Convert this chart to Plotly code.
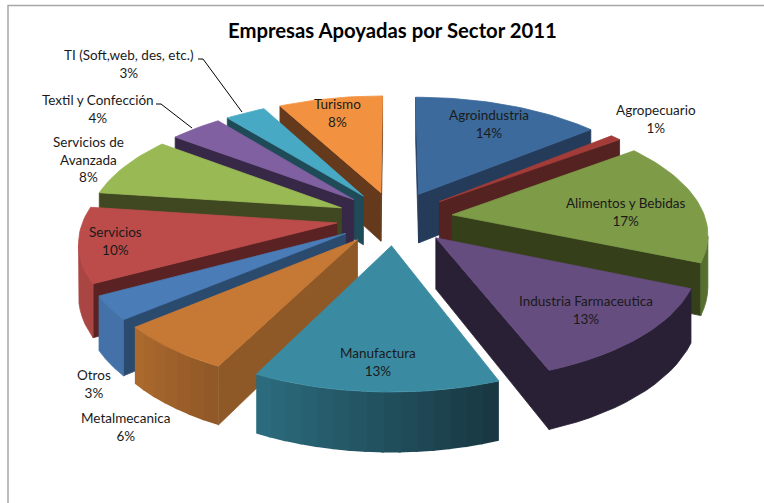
import math
import plotly.graph_objects as go

# ---------- data ----------
categories = ["Agroindustria", "Agropecuario", "Alimentos y Bebidas", "Industria Farmaceutica",
              "Manufactura", "Metalmecanica", "Otros", "Servicios", "Servicios de Avanzada",
              "Textil y Confección", "TI (Soft,web, des, etc.)", "Turismo"]
# the labels show these rounded to whole percent
values = [14, 0.8, 16.6, 12.8, 13.2, 6.45, 3.2, 10.1, 8.2, 3.9, 3, 7.75]
title_text = "Empresas Apoyadas por Sector 2011"

# ---------- styles ----------
top_colors = ["#3C6A9C", "#A33C38", "#7E9B48", "#664D80", "#3A8BA2", "#C67935",
              "#4A7DB8", "#BC4C4A", "#99B955", "#8060A0", "#47A9C3", "#F29240"]
radial_colors = ["#253B5A", "#552222", "#35401A", "#2A2036", "#183640", "#8F5827",
                 "#2A4A6E", "#5A2222", "#404822", "#382848", "#1F4A58", "#653A1C"]
wall_from = ["#253B5A", "#552222", "#566E2E", "#2A2036", "#183640", "#8F5827",
             "#4472A8", "#A94644", "#404822", "#382848", "#1F4A58", "#653A1C"]
wall_to = ["#253B5A", "#552222", "#566E2E", "#2A2036", "#2C6D7F", "#AD6A2E",
           "#4472A8", "#A94644", "#404822", "#382848", "#1F4A58", "#653A1C"]

label_pos = {
    "Agroindustria": (489, 124), "Agropecuario": (656, 119), "Alimentos y Bebidas": (626, 212),
    "Industria Farmaceutica": (586, 310), "Manufactura": (378, 362), "Metalmecanica": (125, 427),
    "Otros": (94, 384), "Servicios": (115, 241), "Servicios de Avanzada": (88, 159),
    "Textil y Confección": (98, 109), "TI (Soft,web, des, etc.)": (129, 64), "Turismo": (337, 113),
}
label_text = {"Servicios de Avanzada": "Servicios de<br>Avanzada"}

# projection of the tilted, exploded pie onto the page
CX, CY = 394.5, 218
A, K, P, H, EXPLODE, ROT = 253, 117, 0.141, 50, 0.23, 0.0
FONT = "Lato"


def project(wx, wy, z=0.0):
    s = 1 / (1 + P * wy)
    return CX + A * wx * s, CY - K * wy * s + H * z * s


def rim(a, mid, r=1.0):
    ra, rm = math.radians(a), math.radians(mid)
    return r * math.sin(ra) + EXPLODE * math.sin(rm), r * math.cos(ra) + EXPLODE * math.cos(rm)


def mix(c1, c2, t):
    a = [int(c1[i:i + 2], 16) for i in (1, 3, 5)]
    b = [int(c2[i:i + 2], 16) for i in (1, 3, 5)]
    return "#%02X%02X%02X" % tuple(round(x + (y - x) * t) for x, y in zip(a, b))


def area(pts):
    return sum(pts[i][0] * pts[(i + 1) % len(pts)][1] - pts[(i + 1) % len(pts)][0] * pts[i][1]
               for i in range(len(pts))) / 2


def poly(pts, color, name, width=0.8):
    return go.Scatter(x=[p[0] for p in pts] + [pts[0][0]], y=[p[1] for p in pts] + [pts[0][1]],
                      mode="lines", fill="toself", fillcolor=color,
                      line=dict(color=color, width=width), name=name, hoverinfo="name", showlegend=False)


total = sum(values)
slices = []
cum = 0
for i, v in enumerate(values):
    a0 = ROT + cum / total * 360
    a1 = ROT + (cum + v) / total * 360
    cum += v
    slices.append((i, a0, a1, (a0 + a1) / 2))
slices.sort(key=lambda t: -math.cos(math.radians(t[3])))

traces = []
for i, a0, a1, mid in slices:
    n = max(3, int((a1 - a0) / 1.5))
    angs = [a0 + (a1 - a0) * j / n for j in range(n + 1)]
    tip = rim(mid, mid, 0.0)
    name = categories[i]
    # radial faces that look toward the viewer
    for a, sign in ((a0, -1), (a1, 1)):
        rx, ry = rim(a, mid)
        pts = [project(*tip), project(rx, ry), project(rx, ry, 1), project(*tip, 1)]
        if area(pts) * sign > 0:
            traces.append(poly(pts, radial_colors[i], name))
    # outer wall: wider bands along the rim so that it can shade; each band runs
    # slightly under the next one so that no seam shows between them
    uniform = wall_from[i] == wall_to[i]
    m = max(2, int((a1 - a0) / 3))
    wall_angs = [a0 + (a1 - a0) * j / m for j in range(m + 1)]
    run = []
    for j in range(m):
        p, q = rim(wall_angs[j], mid), rim(wall_angs[j + 1], mid)
        pts = [project(*p), project(*q), project(*q, 1), project(*p, 1)]
        if area(pts) < 0:
            if uniform:
                run.append((p, q))
            else:
                q2 = rim(min(wall_angs[j + 1] + 0.5, a1), mid)
                pts = [project(*p), project(*q2), project(*q2, 1), project(*p, 1)]
                traces.append(poly(pts, mix(wall_from[i], wall_to[i], (j + 0.5) / m), name, width=0))
    if run:
        upper = [project(*run[0][0])] + [project(*r[1]) for r in run]
        lower = [project(*run[0][0], 1)] + [project(*r[1], 1) for r in run]
        traces.append(poly(upper + lower[::-1], wall_from[i], name))
    # top
    traces.append(poly([project(*tip)] + [project(*rim(a, mid)) for a in angs], top_colors[i], name))

# leader lines
leaders = [[(198, 59), (203, 59), (242, 112)], [(156, 104), (161, 104), (192, 128)]]
for pts in leaders:
    traces.append(go.Scatter(x=[p[0] for p in pts], y=[p[1] for p in pts], mode="lines",
                             line=dict(color="#000000", width=1), hoverinfo="skip", showlegend=False))

annotations = []
for c, v in zip(categories, values):
    x, y = label_pos[c]
    annotations.append(dict(x=x, y=y, xref="x", yref="y", showarrow=False, align="center",
                            text=f"{label_text.get(c, c)}<br>{round(v)}%",
                            font=dict(family=FONT, size=13.5, color="#1A1A1A")))
annotations.append(dict(x=392, y=30, xref="x", yref="y", showarrow=False, text=f"<b>{title_text}</b>",
                        font=dict(family=FONT, size=20.3, color="#000000")))

fig = go.Figure(traces)
fig.update_layout(
    width=764, height=503, margin=dict(l=0, r=0, t=0, b=0),
    paper_bgcolor="white", plot_bgcolor="white", showlegend=False,
    xaxis=dict(range=[0, 764], visible=False, fixedrange=True),
    yaxis=dict(range=[503, 0], visible=False, fixedrange=True),
    annotations=annotations,
    shapes=[dict(type="rect", xref="x", yref="y", x0=8, y0=5.5, x1=780, y1=520,
                 line=dict(color="#A6A6A6", width=1.5), layer="below")],
)
fig.write_html("out.html", config=dict(displayModeBar=False),
               post_script="document.body.style.margin='0';document.body.style.overflow='hidden';")
